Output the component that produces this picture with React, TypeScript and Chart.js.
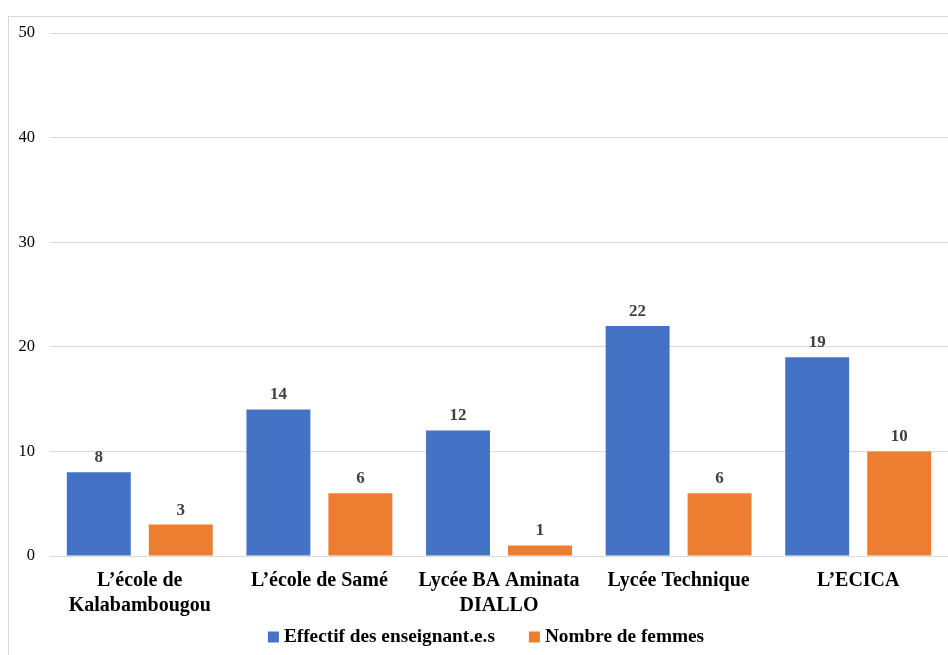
import React, { useEffect, useRef } from "react";
import { Chart, registerables } from "chart.js";

Chart.register(...registerables);

const categories: (string | string[])[] = [
  ["L’école de", "Kalabambougou"],
  "L’école de Samé",
  ["Lycée BA Aminata", "DIALLO"],
  "Lycée Technique",
  "L’ECICA",
];
const effectif = [8, 14, 12, 22, 19];
const femmes = [3, 6, 1, 6, 10];
const seriesNames = ["Effectif des enseignant.e.s", "Nombre de femmes"];
const seriesColors = ["#4472C4", "#ED7D31"];
const yTicks = { min: 0, max: 50, step: 10 };

const FONT = "'Liberation Serif', 'Times New Roman', serif";

const valueLabels = {
  id: "valueLabels",
  afterDatasetsDraw(chart: any) {
    const ctx = chart.ctx;
    ctx.save();
    ctx.font = `bold 17px ${FONT}`;
    ctx.fillStyle = "#404040";
    ctx.textAlign = "center";
    ctx.textBaseline = "bottom";
    chart.data.datasets.forEach((ds: any, i: number) => {
      const meta = chart.getDatasetMeta(i);
      meta.data.forEach((el: any, j: number) => {
        ctx.fillText(String(ds.data[j]), el.x, el.y - 6);
      });
    });
    ctx.restore();
  },
};

const bottomLegend = {
  id: "bottomLegend",
  afterDraw(chart: any) {
    const ctx = chart.ctx;
    ctx.save();
    ctx.font = `bold 19.3px ${FONT}`;
    ctx.textBaseline = "middle";
    ctx.textAlign = "left";
    const box = 11;
    const gapText = 5;
    const gapItems = 34;
    const items = chart.data.datasets.map((ds: any) => ({
      label: ds.label,
      color: ds.backgroundColor,
      w: box + gapText + ctx.measureText(ds.label).width,
    }));
    const total =
      items.reduce((a: number, it: any) => a + it.w, 0) + gapItems * (items.length - 1);
    let x = chart.width / 2 + 12 - total / 2;
    const cy = chart.chartArea.bottom + 80;
    items.forEach((it: any) => {
      ctx.fillStyle = it.color;
      ctx.fillRect(x, cy - box / 2 + 1, box, box);
      ctx.fillStyle = "#000";
      ctx.fillText(it.label, x + box + gapText, cy + 1);
      x += it.w + gapItems;
    });
    ctx.restore();
  },
};

export default function App() {
  const ref = useRef<HTMLCanvasElement | null>(null);
  useEffect(() => {
    if (!ref.current) return;
    const chart = new Chart(ref.current, {
      type: "bar",
      data: {
        labels: categories,
        datasets: [
          { label: seriesNames[0], data: effectif, backgroundColor: seriesColors[0] },
          { label: seriesNames[1], data: femmes, backgroundColor: seriesColors[1] },
        ],
      },
      options: {
        animation: false,
        responsive: false,
        maintainAspectRatio: false,
        layout: { padding: { top: 33, bottom: 9, left: 0, right: 0 } },
        datasets: { bar: { categoryPercentage: 0.913, barPercentage: 0.78 } },
        plugins: {
          legend: { display: false },
          tooltip: { enabled: false },
        },
        scales: {
          x: {
            grid: { display: false },
            border: { display: true, color: "#d9d9d9" },
            ticks: {
              color: "#000",
              padding: 4,
              maxRotation: 0,
              autoSkip: false,
              font: { family: FONT, size: 20, weight: "bold", lineHeight: 1.25 },
            },
            afterFit: (s: any) => {
              s.height = 90;
            },
          },
          y: {
            min: yTicks.min,
            max: yTicks.max,
            grid: { color: "#d9d9d9", drawTicks: false },
            border: { display: false },
            ticks: {
              stepSize: yTicks.step,
              color: "#000",
              padding: 15,
              font: { family: FONT, size: 16.5 },
            },
            afterFit: (s: any) => {
              s.width = 50;
            },
          },
        },
      },
      plugins: [valueLabels, bottomLegend],
    });
    return () => chart.destroy();
  }, []);
  return (
    <div>
      <div
        style={{
          position: "fixed",
          left: 8,
          top: 16,
          width: 1000,
          height: 700,
          border: "1px solid #d9d9d9",
          boxSizing: "border-box",
        }}
      />
      <canvas
        ref={ref}
        width={948}
        height={655}
        style={{ position: "fixed", left: 0, top: 0, width: 948, height: 655 }}
      />
    </div>
  );
}
